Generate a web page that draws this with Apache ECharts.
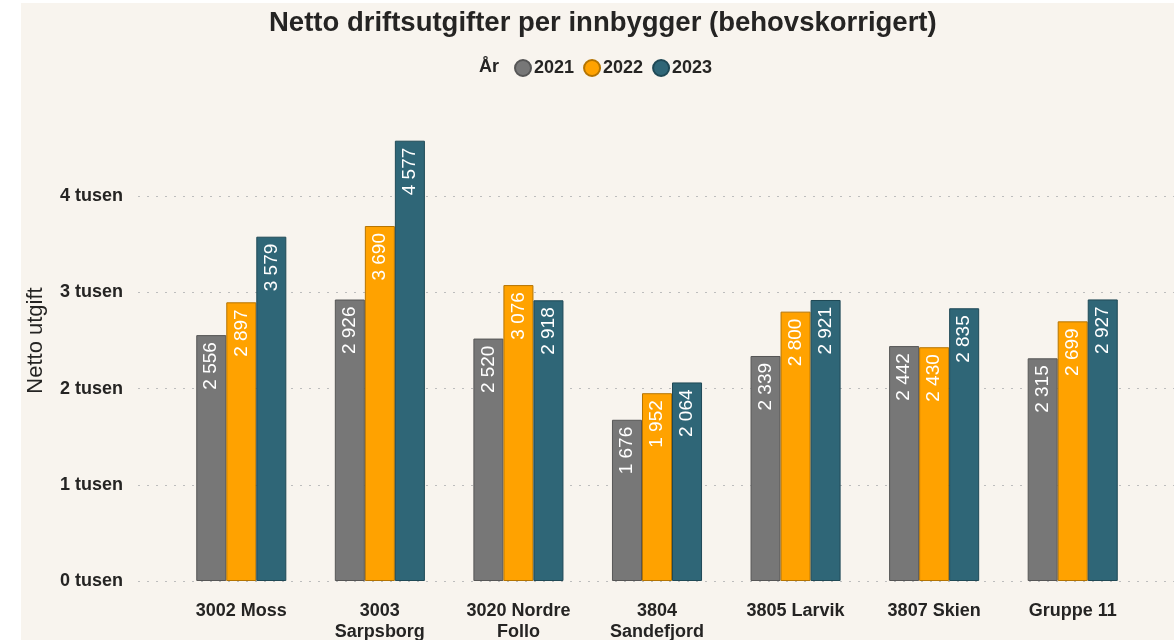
<!DOCTYPE html>
<html>
<head>
<meta charset="utf-8">
<script src="https://cdn.jsdelivr.net/npm/echarts@6/dist/echarts.min.js"></script>
<style>
  html, body { margin: 0; padding: 0; background: #ffffff; }
  #main { position: absolute; left: 21px; top: 3px; width: 1153px; height: 637px; background: #f8f4ee; }
</style>
</head>
<body>
<div id="main"></div>
<script>
// data
var kommuner = ['3002 Moss', '3003\nSarpsborg', '3020 Nordre\nFollo', '3804\nSandefjord', '3805 Larvik', '3807 Skien', 'Gruppe 11'];
var aar = ['2021', '2022', '2023'];
var v2021 = [2556, 2926, 2520, 1676, 2339, 2442, 2315];
var v2022 = [2897, 3690, 3076, 1952, 2800, 2430, 2699];
var v2023 = [3579, 4577, 2918, 2064, 2921, 2835, 2927];
var yTicks = [0, 1000, 2000, 3000, 4000];

var farger = ['#777777', '#ffa200', '#2f6677'];
var kanter = ['#565656', '#b57400', '#1f4956'];

// tall med mellomrom som tusenskille
function fmt(v) {
  return String(v).replace(/\B(?=(\d{3})+(?!\d))/g, ' ');
}

var font = '"Liberation Sans", Arial, sans-serif';
var tekst = '#252423';

function serie(i, data) {
  return {
    name: aar[i],
    type: 'bar',
    xAxisIndex: 1,
    yAxisIndex: 1,
    data: data,
    barGap: '0%',
    barCategoryGap: '35%',
    itemStyle: { color: farger[i], borderColor: kanter[i], borderWidth: 1 },
    label: {
      show: true,
      position: 'insideTop',
      rotate: 90,
      align: 'right',
      verticalAlign: 'middle',
      distance: 7,
      color: '#ffffff',
      fontFamily: font,
      fontSize: 19,
      formatter: function (p) { return fmt(p.value); }
    }
  };
}

var myChart = echarts.init(document.getElementById('main'));
myChart.setOption({
  animation: false,
  textStyle: { fontFamily: font },
  title: [
    {
      text: 'Netto driftsutgifter per innbygger (behovskorrigert)',
      left: 243,
      top: 1,
      textStyle: { fontSize: 27.5, fontWeight: 'bold', color: tekst, fontFamily: font }
    },
    {
      text: 'År',
      left: 453,
      top: 50,
      textStyle: { fontSize: 18, fontWeight: 'bold', color: tekst, fontFamily: font }
    }
  ],
  legend: {
    data: aar,
    left: 488,
    top: 51,
    icon: 'circle',
    itemWidth: 16,
    itemHeight: 16,
    itemGap: 9,
    textStyle: { fontSize: 18, fontWeight: 'bold', color: tekst, fontFamily: font, padding: [0, 0, 0, -2] }
  },
  grid: [
    // bred grid bare for de stiplede linjene og y-etikettene
    { left: 117, right: 0, top: 97, bottom: 59, outerBoundsMode: 'none' },
    // grid for søylene
    { left: 151, right: 32, top: 97, bottom: 59, outerBoundsMode: 'none' }
  ],
  xAxis: [
    { type: 'category', gridIndex: 0, data: kommuner, show: false },
    {
      type: 'category',
      gridIndex: 1,
      data: kommuner,
      axisLine: { show: false },
      axisTick: { show: false },
      axisLabel: {
        interval: 0,
        margin: 20,
        fontSize: 18,
        fontWeight: 'bold',
        lineHeight: 21,
        color: tekst,
        fontFamily: font
      }
    }
  ],
  yAxis: [
    {
      type: 'value',
      gridIndex: 0,
      min: 0,
      max: 5000,
      interval: 1000,
      name: 'Netto utgift',
      nameLocation: 'middle',
      nameGap: 91,
      nameTextStyle: { fontSize: 22, color: tekst, fontFamily: font },
      axisLine: { show: false },
      axisTick: { show: false },
      axisLabel: {
        showMaxLabel: false,
        margin: 15,
        fontSize: 18,
        fontWeight: 'bold',
        color: tekst,
        fontFamily: font,
        formatter: function (v) { return yTicks.indexOf(v) >= 0 ? (v / 1000) + ' tusen' : ''; }
      },
      splitLine: {
        showMaxLine: false,
        lineStyle: { type: [2, 7], color: '#bdbdbd', width: 1 }
      }
    },
    {
      type: 'value',
      gridIndex: 1,
      min: 0,
      max: 5000,
      interval: 1000,
      show: false,
      splitLine: { show: false }
    }
  ],
  series: [serie(0, v2021), serie(1, v2022), serie(2, v2023)]
});
</script>
</body>
</html>
